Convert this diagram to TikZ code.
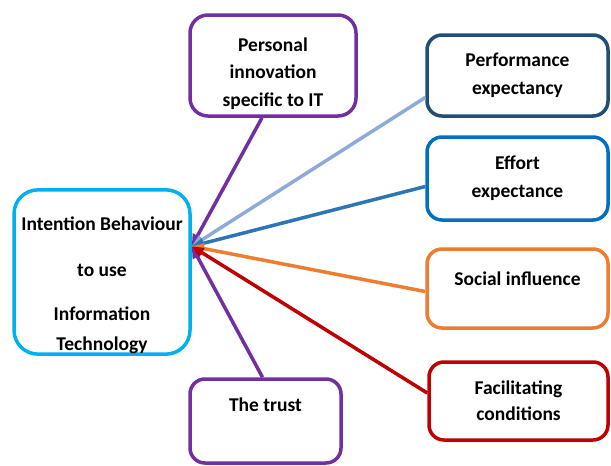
\documentclass[tikz,border=0pt]{standalone}
\usepackage{fontspec}
\setmainfont{Carlito}
\usetikzlibrary{arrows.meta}
\definecolor{skyblue}{HTML}{00B0F0}
\definecolor{plum}{HTML}{7030A0}
\definecolor{navy}{HTML}{1F4E79}
\definecolor{paleblue}{HTML}{8EAADB}
\definecolor{midblue}{HTML}{0070C0}
\definecolor{steel}{HTML}{2E75B6}
\definecolor{tangerine}{HTML}{ED7D31}
\definecolor{crimson}{HTML}{C00000}
\begin{document}
\begin{tikzpicture}[
  x=1pt, y=-1pt,
  every node/.style={draw, rounded corners=15pt, line width=3.5pt, align=center, fill=white, inner sep=0pt, font=\fontsize{19.5}{28}\selectfont\bfseries},
  side/.style={minimum width=181pt, minimum height=81pt},
  link/.style={line width=3.5pt, -{Triangle[length=12pt,width=10pt]}}
]
\useasboundingbox (0,0) rectangle (611,466);
\node[draw=skyblue, rounded corners=24pt, minimum width=176pt, minimum height=156pt] (intent) at (102,272)
  {\rule{0pt}{41pt}Intention Behaviour\\[18pt] to use\\[16pt] Information\\[2pt] Technology};
\node[draw=plum, rounded corners=18pt, minimum width=166pt, minimum height=101pt] (innov) at (273,65.5)
  {\rule{0pt}{30pt}Personal\\[-1pt] innovation\\ specific to IT};
\node[side, draw=navy] (perf) at (517.5,75.5) {Performance\\ expectancy};
\node[side, draw=midblue, minimum height=83pt] (effort) at (517.5,178.5) {Effort\\ expectance};
\node[side, draw=tangerine, minimum height=79pt, text depth=20pt] (social) at (517.5,288.5) {Social influence};
\node[side, draw=crimson, minimum width=179pt, minimum height=78pt] (facil) at (518.5,401) {Facilitating\\[-2pt] conditions};
\node[draw=plum, minimum width=151pt, minimum height=84pt, text depth=32pt] (trust) at (265.5,421) {The trust};
\draw[link, plum] ([xshift=-11pt]innov.south) -- (intent.16);
\draw[link, plum] ([xshift=-3pt]trust.north) -- (intent.16);
\draw[link, paleblue] ([yshift=-22pt]perf.west) -- (intent.16);
\draw[link, steel] ([yshift=-8pt]effort.west) -- (intent.16);
\draw[link, tangerine] ([yshift=-3pt]social.west) -- (intent.16);
\draw[link, crimson] ([yshift=8pt]facil.west) -- (intent.16);
\end{tikzpicture}
\end{document}
